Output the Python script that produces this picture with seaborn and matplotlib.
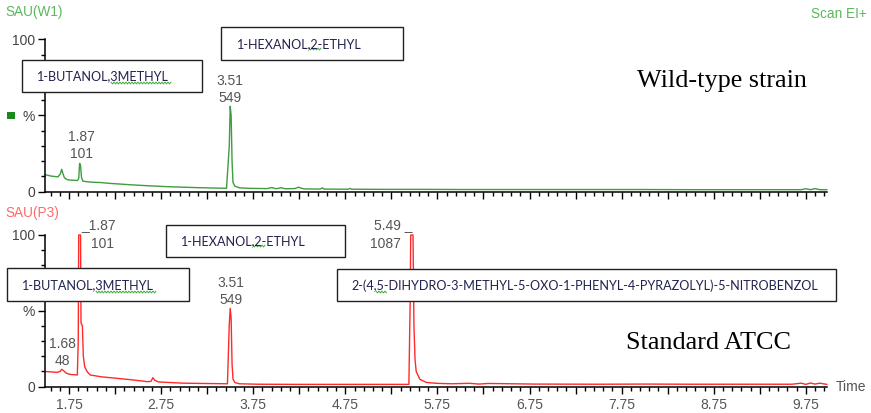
import numpy as np
import matplotlib
matplotlib.use("Agg")
import matplotlib.pyplot as plt
import seaborn as sns
from matplotlib.patches import Rectangle

# ---------------- data ----------------
w1_time = [1.49, 1.51, 1.55, 1.60, 1.63, 1.655, 1.67, 1.685, 1.70, 1.73, 1.76, 1.80, 1.84, 1.855,
           1.865, 1.875, 1.885, 1.90, 1.95, 2.00, 2.09, 2.20, 2.30, 2.45, 2.60, 2.81, 3.00, 3.17,
           3.30, 3.46, 3.49, 3.50, 3.51, 3.52, 3.53, 3.55, 3.60, 3.70, 3.90, 3.95, 4.00, 4.05,
           4.10, 4.20, 4.24, 4.30, 4.48, 4.50, 4.52, 4.78, 4.80, 4.82, 5.20, 5.60, 6.00, 6.50,
           7.00, 7.50, 8.00, 8.50, 9.00, 9.50, 9.70, 9.75, 9.80, 9.85, 9.90, 9.98]
w1_pct = [11.0, 10.8, 10.2, 9.8, 9.6, 11.5, 14.6, 11.5, 9.0, 7.8, 7.5, 7.4, 7.2, 8.5,
          18.5, 17.0, 9.5, 6.8, 6.4, 6.1, 5.9, 5.3, 4.9, 4.3, 3.8, 3.2, 2.8, 2.5,
          2.3, 2.1, 30.0, 56.0, 50.0, 20.0, 6.0, 3.5, 2.4, 2.1, 1.9, 2.6, 1.8, 2.5,
          1.8, 1.9, 2.8, 1.7, 1.6, 2.4, 1.6, 1.5, 2.0, 1.5, 1.4, 1.4, 1.3, 1.3,
          1.3, 1.3, 1.3, 1.2, 1.2, 1.2, 1.2, 1.8, 1.2, 1.9, 1.2, 1.2]

p3_time = [1.49, 1.51, 1.57, 1.62, 1.655, 1.67, 1.69, 1.72, 1.76, 1.80, 1.84, 1.85, 1.855, 1.875,
           1.88, 1.895, 1.905, 1.92, 1.95, 1.98, 2.10, 2.27, 2.45, 2.60, 2.64, 2.66, 2.68, 2.72,
           2.99, 3.20, 3.47, 3.49, 3.50, 3.51, 3.52, 3.53, 3.55, 3.60, 3.80, 4.20, 4.80, 5.20,
           5.44, 5.455, 5.46, 5.485, 5.495, 5.507, 5.52, 5.56, 5.63, 5.74, 5.90, 6.10, 6.20,
           6.30, 6.80, 7.50, 8.00, 8.50, 9.00, 9.60, 9.70, 9.75, 9.80, 9.85, 9.90, 9.98]
p3_pct = [9.8, 9.8, 9.6, 9.3, 10.0, 11.3, 10.5, 8.8, 8.0, 7.8, 7.6, 30.0, 100.0, 100.0,
          42.0, 40.0, 20.0, 13.0, 9.5, 7.6, 6.4, 5.4, 4.3, 3.2, 3.4, 5.8, 4.2, 3.0,
          2.2, 2.0, 1.8, 41.0, 51.6, 45.0, 15.0, 5.0, 2.6, 1.8, 1.5, 1.4, 1.4, 1.4,
          1.4, 60.0, 100.0, 100.0, 40.0, 17.5, 9.8, 4.7, 2.7, 2.1, 1.8, 2.1, 1.6,
          2.0, 1.6, 1.5, 1.6, 1.5, 1.5, 1.5, 2.2, 1.4, 2.3, 1.6, 2.2, 1.4]

xtick_labels = ["1.75", "2.75", "3.75", "4.75", "5.75", "6.75", "7.75", "8.75", "9.75"]
ytick_labels = ["0", "%", "100"]

w1_peak_rt = ["1.87", "3.51"]
w1_peak_area = ["101", "549"]
p3_peak_rt = ["1.68", "1.87", "3.51", "5.49"]
p3_peak_area = ["48", "101", "549", "1087"]

w1_compounds = ["1-BUTANOL,3METHYL", "1-HEXANOL,2-ETHYL"]
p3_compounds = ["1-HEXANOL,2-ETHYL", "1-BUTANOL,3METHYL",
                "2-(4,5-DIHYDRO-3-METHYL-5-OXO-1-PHENYL-4-PYRAZOLYL)-5-NITROBENZOL"]

# ---------------- style ----------------
sns.set_style("ticks")
plt.rcParams["font.family"] = ["Liberation Sans", "DejaVu Sans"]

GREEN = "#3f9c3f"
RED = "#ff2a2a"
GRAY = "#555555"

W, H = 871, 413
fig = plt.figure(figsize=(W / 100, H / 100), dpi=100)

def fax(x0, y_bottom, w, h):
    return fig.add_axes([x0 / W, 1 - y_bottom / H, w / W, h / H])

ax_top = fax(45, 191.5, 782, 152.2)
ax_bot = fax(45, 386.5, 782, 151.5)

major_x = [1.75 + 0.5 * i for i in range(17)]
minor_x = [round(1.55 + 0.1 * i, 2) for i in range(85)]
minor_x = [m for m in minor_x if all(abs(m - M) > 1e-6 for M in major_x) and m <= 9.98]
major_lbl = [xtick_labels[i // 2] if i % 2 == 0 else "" for i in range(17)]

for ax, t, v, col, show_lbl in [(ax_top, w1_time, w1_pct, GREEN, False),
                                (ax_bot, p3_time, p3_pct, RED, True)]:
    sns.lineplot(x=t, y=v, ax=ax, color=col, linewidth=1.0, estimator=None, sort=False,
                 clip_on=False)
    ax.set_xlim(1.489, 9.98)
    ax.set_ylim(0, 100)
    ax.set_xlabel("")
    ax.set_ylabel("")
    ax.patch.set_alpha(0)
    for s in ["top", "right"]:
        ax.spines[s].set_visible(False)
    for s in ["left", "bottom"]:
        ax.spines[s].set_color("black")
        ax.spines[s].set_linewidth(1.1)
    ax.set_xticks(major_x)
    ax.set_xticklabels(major_lbl if show_lbl else [""] * len(major_x))
    ax.set_xticks(minor_x, minor=True)
    ax.set_yticks([0, 50, 100])
    ax.set_yticklabels(ytick_labels)
    ax.set_yticks([10, 20, 30, 40, 60, 70, 80, 90], minor=True)
    ax.tick_params(axis="both", which="major", direction="out", length=5, width=1.0,
                   color="black", labelsize=10, labelcolor="#444444", pad=2)
    ax.tick_params(axis="both", which="minor", direction="out", length=3, width=1.0,
                   color="black")
    ax.tick_params(axis="x", which="major", pad=3, labelcolor=GRAY)

# ---------------- peak labels ----------------
lab = dict(fontsize=10, color=GRAY, ha="center", va="center", linespacing=1.3)
ax_top.text(1.88, 30, w1_peak_rt[0] + "\n" + w1_peak_area[0], **lab)
ax_top.text(3.50, 67, w1_peak_rt[1] + "\n" + w1_peak_area[1], **lab)
ax_bot.text(1.674, 22.4, p3_peak_rt[0] + "\n" + p3_peak_area[0], **lab)
ax_bot.text(1.880, 106.5, "_" + p3_peak_rt[1], fontsize=10, color=GRAY, ha="left", va="center")
ax_bot.text(2.108, 94.0, p3_peak_area[1], fontsize=10, color=GRAY, ha="center", va="center")
ax_bot.text(3.509, 62.6, p3_peak_rt[2] + "\n" + p3_peak_area[2], **lab)
ax_bot.text(5.48, 106.5, p3_peak_rt[3] + " _", fontsize=10, color=GRAY, ha="right", va="center")
ax_bot.text(5.19, 94.0, p3_peak_area[3], fontsize=10, color=GRAY, ha="center", va="center")

# ---------------- overlay (pixel coordinates) ----------------
ov = fig.add_axes([0, 0, 1, 1], zorder=10)
ov.set_xlim(0, W)
ov.set_ylim(H, 0)
ov.axis("off")
ov.patch.set_alpha(0)

ov.text(5, 12, "SAU(W1)", color="#5cb85c", fontsize=9.8, ha="left", va="center")
ov.text(867, 14, "Scan EI+", color="#5cb85c", fontsize=9.8, ha="right", va="center")
ov.text(5, 213, "SAU(P3)", color="#ff6a6a", fontsize=9.8, ha="left", va="center")
ov.text(836, 387, "Time", color=GRAY, fontsize=10, ha="left", va="center")
ov.add_patch(Rectangle((7, 111.5), 8, 7.5, facecolor="#1a8a1a", edgecolor="none"))

serif = ["Liberation Serif", "DejaVu Serif"]
ov.text(637, 81, "Wild-type strain", family=serif, fontsize=18.8, color="black",
        ha="left", va="center")
ov.text(626, 343, "Standard ATCC", family=serif, fontsize=18.8, color="black",
        ha="left", va="center")

box_font = ["Lato", "DejaVu Sans"]
def box(x0, y0, x1, y1, tx, label):
    ov.add_patch(Rectangle((x0, y0), x1 - x0, y1 - y0, facecolor="white",
                           edgecolor="#222222", linewidth=1.0))
    ov.text(tx, (y0 + y1) / 2 + 0.5, label, family=box_font, fontsize=9.1, color="#22224f",
            ha="left", va="center")

def squiggle(x0, x1, y):
    xs = np.arange(x0, x1 + 0.01, 1.5)
    ys = y + np.where(np.arange(len(xs)) % 2 == 0, -0.9, 0.9)
    ov.plot(xs, ys, color="#3aaa3a", linewidth=0.7)

box(22, 60, 202, 92, 37, w1_compounds[0])
squiggle(111, 171, 83)
box(221, 27, 403, 60, 237, w1_compounds[1])
squiggle(309, 321, 49)
box(166, 225, 345, 257, 181, p3_compounds[0])
squiggle(253, 265, 246)
box(7, 268, 189, 301, 22, p3_compounds[1])
squiggle(96, 156, 292)
box(337, 269, 836, 301, 351, p3_compounds[2])
squiggle(376, 387, 292)

fig.savefig("out.png", dpi=100)
